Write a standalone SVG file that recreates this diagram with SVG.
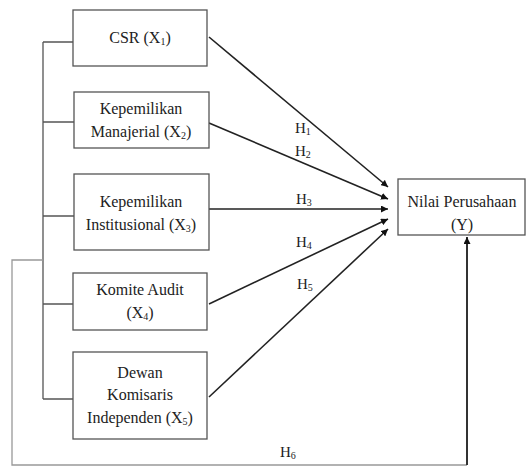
<svg xmlns="http://www.w3.org/2000/svg" width="526" height="468" viewBox="0 0 526 468">
<style>
.box{fill:#fff;stroke:#555;stroke-width:1.3}
text{font-family:"Liberation Serif","Times New Roman",serif;font-size:16px;fill:#222;text-anchor:middle}
.lbl{font-size:15px;text-anchor:start}
.sub{font-size:10px}
.bus{fill:none;stroke:#555;stroke-width:1.3}
.loop{fill:none;stroke:#999;stroke-width:1.3}
.arr{fill:none;stroke:#222;stroke-width:1.6;marker-end:url(#ah)}
</style>
<defs>
<marker id="ah" viewBox="0 0 10 10" refX="10" refY="5" markerWidth="7" markerHeight="7" markerUnits="userSpaceOnUse" orient="auto">
<path d="M0,0 L10,5 L0,10 z" fill="#111"/>
</marker>
</defs>
<g id="connectors">
<path class="bus" d="M43,42 V399 M43,42 H73 M43,122 H74 M43,216 H74 M43,304 H73 M43,399 H73"/>
<path class="loop" d="M43,260 H12 V465 H467"/>
<path d="M467,465 V237" fill="none" stroke="#333" stroke-width="2" marker-end="url(#ah)"/>
<line class="arr" x1="209" y1="37" x2="388" y2="187"/>
<line class="arr" x1="209" y1="123" x2="388" y2="199"/>
<line class="arr" x1="209" y1="209" x2="388" y2="209"/>
<line class="arr" x1="209" y1="304" x2="388" y2="219"/>
<line class="arr" x1="209" y1="397" x2="388" y2="229"/>
<text class="lbl" x="295" y="133">H<tspan class="sub" dy="2">1</tspan></text>
<text class="lbl" x="295" y="156">H<tspan class="sub" dy="2">2</tspan></text>
<text class="lbl" x="296" y="204">H<tspan class="sub" dy="2">3</tspan></text>
<text class="lbl" x="296" y="247">H<tspan class="sub" dy="2">4</tspan></text>
<text class="lbl" x="297" y="289">H<tspan class="sub" dy="2">5</tspan></text>
<text class="lbl" x="280" y="457">H<tspan class="sub" dy="2">6</tspan></text>
</g>
<g id="x1">
<rect class="box" x="73" y="10" width="134" height="56"/>
<text x="140" y="43">CSR (X<tspan class="sub" dy="2">1</tspan><tspan dy="-2">)</tspan></text>
</g>
<g id="x2">
<rect class="box" x="74" y="92" width="135" height="56"/>
<text x="141" y="114">Kepemilikan</text>
<text x="141" y="137">Manajerial (X<tspan class="sub" dy="2">2</tspan><tspan dy="-2">)</tspan></text>
</g>
<g id="x3">
<rect class="box" x="74" y="174" width="135" height="76"/>
<text x="141" y="207">Kepemilikan</text>
<text x="141" y="230">Institusional (X<tspan class="sub" dy="2">3</tspan><tspan dy="-2">)</tspan></text>
</g>
<g id="x4">
<rect class="box" x="73" y="273" width="134" height="57"/>
<text x="140" y="295">Komite Audit</text>
<text x="140" y="318">(X<tspan class="sub" dy="2">4</tspan><tspan dy="-2">)</tspan></text>
</g>
<g id="x5">
<rect class="box" x="73" y="352" width="134" height="87"/>
<text x="140" y="378">Dewan</text>
<text x="140" y="400">Komisaris</text>
<text x="140" y="423">Independen (X<tspan class="sub" dy="2">5</tspan><tspan dy="-2">)</tspan></text>
</g>
<g id="y">
<rect class="box" x="398" y="179" width="127" height="56"/>
<text x="462" y="207">Nilai Perusahaan</text>
<text x="462" y="230">(Y)</text>
</g>
</svg>
